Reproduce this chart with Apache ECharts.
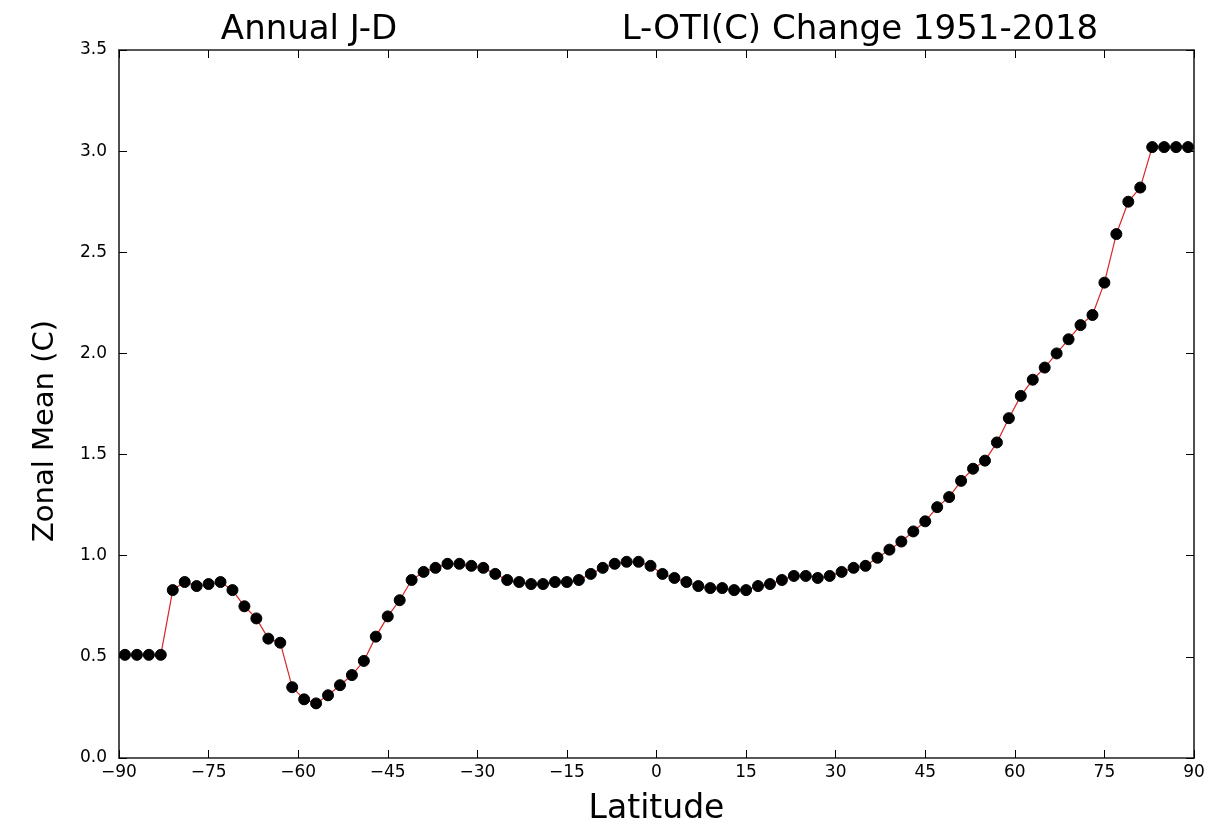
<!DOCTYPE html>
<html>
<head>
<meta charset="utf-8">
<script src="https://cdn.jsdelivr.net/npm/echarts@6/dist/echarts.min.js"></script>
<style>html,body{margin:0;padding:0;background:#fff}#c{width:1230px;height:825px}</style>
</head>
<body>
<div id="c"></div>
<script>
const latitudes = [-89,-87,-85,-83,-81,-79,-77,-75,-73,-71,-69,-67,-65,-63,-61,-59,-57,-55,-53,-51,-49,-47,-45,-43,-41,-39,-37,-35,-33,-31,-29,-27,-25,-23,-21,-19,-17,-15,-13,-11,-9,-7,-5,-3,-1,1,3,5,7,9,11,13,15,17,19,21,23,25,27,29,31,33,35,37,39,41,43,45,47,49,51,53,55,57,59,61,63,65,67,69,71,73,75,77,79,81,83,85,87,89];
const zonalMean = [0.51,0.51,0.51,0.51,0.83,0.87,0.85,0.86,0.87,0.83,0.75,0.69,0.59,0.57,0.35,0.29,0.27,0.31,0.36,0.41,0.48,0.60,0.70,0.78,0.88,0.92,0.94,0.96,0.96,0.95,0.94,0.91,0.88,0.87,0.86,0.86,0.87,0.87,0.88,0.91,0.94,0.96,0.97,0.97,0.95,0.91,0.89,0.87,0.85,0.84,0.84,0.83,0.83,0.85,0.86,0.88,0.90,0.90,0.89,0.90,0.92,0.94,0.95,0.99,1.03,1.07,1.12,1.17,1.24,1.29,1.37,1.43,1.47,1.56,1.68,1.79,1.87,1.93,2.00,2.07,2.14,2.19,2.35,2.59,2.75,2.82,3.02,3.02,3.02,3.02];
const xTicks = {min:-90, max:90, step:15};
const yTicks = {min:0, max:3.5, step:0.5};
const titleLeft = 'Annual J-D';
const titleRight = 'L-OTI(C) Change 1951-2018';
const xName = 'Latitude';
const yName = 'Zonal Mean (C)';

const chart = echarts.init(document.getElementById('c'), null, {renderer:'canvas'});
const font = 'DejaVu Sans';
const lineStyle = {color:'#222', width:1.6};
const fmtX = v => (v < 0 ? '\u2212' + Math.abs(v) : String(v));
const fmtY = v => v.toFixed(1);
const baseX = {type:'value', min:xTicks.min, max:xTicks.max, interval:xTicks.step, splitLine:{show:false},
  axisLine:{show:true, onZero:false, lineStyle}, axisTick:{show:true, inside:true, length:8, lineStyle:{color:'#000'}}};
const baseY = {type:'value', min:yTicks.min, max:yTicks.max, interval:yTicks.step, splitLine:{show:false},
  axisLine:{show:true, onZero:false, lineStyle}, axisTick:{show:true, inside:true, length:8, lineStyle:{color:'#000'}}};
chart.setOption({
  animation:false,
  backgroundColor:'#fff',
  textStyle:{fontFamily:font},
  title:[
    {text:titleLeft, left:304, top:8, textAlign:'center', textStyle:{fontFamily:font, fontSize:34, fontWeight:'normal', color:'#000'}},
    {text:titleRight, left:855, top:8, textAlign:'center', textStyle:{fontFamily:font, fontSize:34, fontWeight:'normal', color:'#000'}}
  ],
  graphic:[{
    type:'text', x:45, y:431, rotation:Math.PI/2,
    style:{text:yName, fontFamily:font, fontSize:29, fill:'#000', textAlign:'center', textVerticalAlign:'middle'}
  }],
  grid:{left:119, right:36, top:50, bottom:67, containLabel:false, outerBoundsMode:'none'},
  xAxis:[
    Object.assign({}, baseX, {position:'bottom', name:xName, nameLocation:'middle', nameGap:35,
      nameTextStyle:{fontFamily:font, fontSize:33, color:'#000'},
      axisLabel:{formatter:fmtX, fontSize:17, color:'#000', margin:6, fontFamily:font}}),
    Object.assign({}, baseX, {position:'top', axisLabel:{show:false}})
  ],
  yAxis:[
    Object.assign({}, baseY, {position:'left',
      axisLabel:{formatter:fmtY, fontSize:17, color:'#000', margin:12, fontFamily:font}}),
    Object.assign({}, baseY, {position:'right', axisLabel:{show:false}})
  ],
  series:[{
    type:'line',
    xAxisIndex:0, yAxisIndex:0,
    data: latitudes.map((lat,i)=>[lat, zonalMean[i]]),
    lineStyle:{color:'#d62728', width:1.2},
    itemStyle:{color:'#000', borderColor:'#000'},
    symbol:'circle', symbolSize:11, showSymbol:true,
    clip:false
  }]
});
</script>
</body>
</html>
